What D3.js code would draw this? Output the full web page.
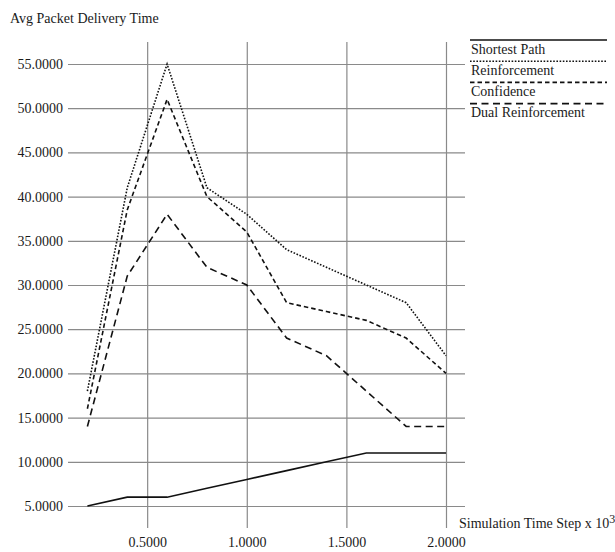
<!DOCTYPE html>
<html>
<head>
<meta charset="utf-8">
<script src="https://cdn.jsdelivr.net/npm/d3@7"></script>
<style>
	body { margin: 0; background: #fff; }
	text { font-family: "Liberation Serif", "Times New Roman", serif; fill: #1a1a1a; }
</style>
</head>
<body>
<svg id="main" width="615" height="552"></svg>
<script>
// values
var steps = [0.2, 0.4, 0.6, 0.8, 1.0, 1.2, 1.4, 1.6, 1.8, 2.0];
var shortestPath = [5, 6, 6, 7, 8, 9, 10, 11, 11, 11];
var reinforcement = [18, 41, 55, 41, 38, 34, 32, 30, 28, 22];
var confidence = [16, 38.5, 51, 40, 36, 28, 27, 26, 24, 20];
var dualReinforcement = [14, 31, 38, 32, 30, 24, 22, 18, 14, 14];
var seriesNames = ["Shortest Path", "Reinforcement", "Confidence", "Dual Reinforcement"];
var yTicks = [5, 10, 15, 20, 25, 30, 35, 40, 45, 50, 55];
var xTicks = [0.5, 1.0, 1.5, 2.0];

window.onload = function() {
var svg = d3.select("#main");

// plot frame (gridline extents)
var gLeft = 68, gRight = 465, gTop = 42, gBottom = 528;

var x = d3.scaleLinear().domain([0.2, 2.0]).range([87.4, 446]);
var y = d3.scaleLinear().domain([5, 55]).range([506, 64]);

// dash styles per series, in legend order
var dashes = ["none", "1.6,1.6", "4.5,3", "7,4.5"];
var widths = [1.6, 1.6, 1.6, 1.6];

var series = [shortestPath, reinforcement, confidence, dualReinforcement].map(function(vals, i) {
	return {
		name: seriesNames[i],
		dash: dashes[i],
		width: widths[i],
		points: vals.map(function(v, j) { return {x: steps[j], y: v}; })
	};
});

// grid + tick labels
var yAxis = d3.axisLeft(y)
	.tickValues(yTicks)
	.tickFormat(d3.format(".4f"))
	.tickSize(-(gRight - gLeft))
	.tickPadding(5);

var xAxis = d3.axisBottom(x)
	.tickValues(xTicks)
	.tickFormat(d3.format(".4f"))
	.tickSize(-(gBottom - gTop))
	.tickPadding(9);

var gy = svg.append("g").attr("transform", "translate(" + gLeft + ",0)").call(yAxis);
var gx = svg.append("g").attr("transform", "translate(0," + gBottom + ")").call(xAxis);

[gy, gx].forEach(function(g) {
	g.select(".domain").remove();
	g.selectAll(".tick line").attr("stroke", "#8a8a8a").attr("stroke-width", 1.2);
	g.selectAll(".tick text")
		.attr("fill", "#1a1a1a")
		.style("font-family", "'Liberation Serif', 'Times New Roman', serif")
		.style("font-size", "14px");
});

// lines
var line = d3.line()
	.x(function(d) { return x(d.x); })
	.y(function(d) { return y(d.y); });

svg.append("g").selectAll("path")
	.data(series)
	.enter().append("path")
	.attr("d", function(d) { return line(d.points); })
	.attr("fill", "none")
	.attr("stroke", "#111")
	.attr("stroke-width", function(d) { return d.width; })
	.attr("stroke-dasharray", function(d) { return d.dash; });

// axis titles
svg.append("text")
	.attr("x", 10)
	.attr("y", 23)
	.style("font-size", "14px")
	.text("Avg Packet Delivery Time");

var xt = svg.append("text")
	.attr("x", 459)
	.attr("y", 528)
	.style("font-size", "14px");
xt.append("tspan").text("Simulation Time Step x 10");
xt.append("tspan").attr("dy", -5).style("font-size", "12px").text("3");

// legend
var legend = svg.append("g").selectAll("g")
	.data(series)
	.enter().append("g")
	.attr("transform", function(d, i) { return "translate(470," + (40 + i * 21.2) + ")"; });

legend.append("line")
	.attr("x1", 0).attr("x2", 137)
	.attr("y1", 0).attr("y2", 0)
	.attr("stroke", "#111")
	.attr("stroke-width", function(d) { return d.width; })
	.attr("stroke-dasharray", function(d) { return d.dash; });

legend.append("text")
	.attr("x", 1)
	.attr("y", 13.5)
	.style("font-size", "14px")
	.text(function(d) { return d.name; });
}
</script>
</body>
</html>
